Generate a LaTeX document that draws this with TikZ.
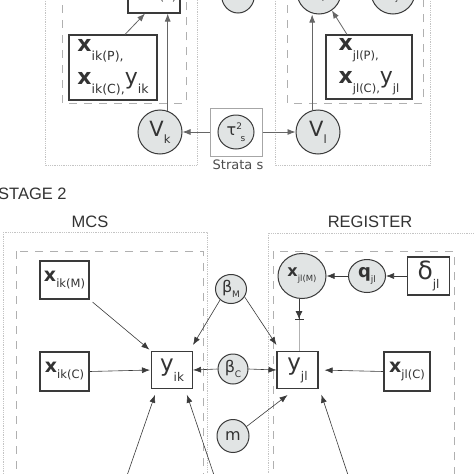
\documentclass[tikz,border=0pt]{standalone}
\usepackage{fontspec}
\setmainfont{DejaVu Sans}
\newfontfamily\arialf{Liberation Sans}
\usetikzlibrary{arrows.meta,shapes.geometric}
\definecolor{circfill}{HTML}{E1E4E4}
\definecolor{edgec}{HTML}{3A3A3A}
\definecolor{dotc}{HTML}{C4C4C4}
\definecolor{dashc}{HTML}{B0B0B0}
\definecolor{txtc}{HTML}{333333}
\newcommand\ssub[5]{{\fontsize{#1}{#1}\selectfont #2}\raisebox{#4}{\fontsize{#3}{#3}\selectfont #5}}
\begin{document}
\begin{tikzpicture}[x=1pt,y=-1pt,
  box/.style={draw=edgec,line width=1.1pt,fill=white,inner sep=0pt,rectangle,text=txtc},
  circ/.style={ellipse,draw=edgec,line width=1pt,fill=circfill,inner sep=0pt,text=txtc},
  arr/.style={draw=edgec,line width=0.6pt,-{Latex[length=8pt,width=6pt]}},
  arrg/.style={draw=black!60,line width=0.8pt,-{Latex[length=8pt,width=6pt]}},
  outer/.style={draw=dotc,densely dotted,line width=0.8pt},
  inner/.style={draw=dashc,dash pattern=on 8pt off 7pt,line width=0.9pt},
  lbl/.style={inner sep=0pt,font=\arialf\fontsize{16.5}{16.5}\selectfont,text=black!80}]
\useasboundingbox (0,0) rectangle (474,474);
\clip (0,0) rectangle (474,474);
\fill[white] (0,0) rectangle (474,474);

% ---------- regions ----------
\draw[outer] (45,-10) rectangle (197,165);
\draw[inner] (62,-10) rectangle (186,103);
\draw[outer] (275,-10) rectangle (430,165);
\draw[inner] (287,-10) rectangle (423,103);
\draw[outer] (3,232) rectangle (207,490);
\draw[inner] (16,251) rectangle (203,490);
\draw[outer] (268,233) rectangle (490,490);
\draw[inner] (273,251) rectangle (454,490);

% ---------- stage 1 ----------
\node[box,minimum width=52pt,minimum height=40pt] (bA) at (154,-7) {};
\node[inner sep=0pt,font=\fontsize{12.5}{12.5}\selectfont,text=black!70] (bAt) at (162,-3) {m(P)};
\node[circ,minimum width=33pt,minimum height=36pt] (cM) at (238,-5) {};
\node[circ,minimum width=44pt,minimum height=44pt] (cR1) at (319,-8) {};
\node[inner sep=0pt,font=\fontsize{10}{10}\selectfont,text=black!70] (cR1t) at (323,-2) {l};
\node[circ,minimum width=44pt,minimum height=44pt] (cR2) at (393,-8) {};
\node[inner sep=0pt,font=\fontsize{10}{10}\selectfont,text=black!70] (cR2t) at (397,-2) {j};

\node[box,minimum width=88pt,minimum height=65pt,align=left,text=black!80,
      font=\fontsize{21}{33}\selectfont] (bL) at (113,67.5)
  {\ssub{22}{\bfseries x}{12.5}{-9pt}{ik(P),}\\
   \ssub{22}{\bfseries x}{12.5}{-9pt}{ik(C),}\ssub{22}{y}{12.5}{-9pt}{ik}};
\node[box,minimum width=86pt,minimum height=64pt,align=left,text=black!80,
      font=\fontsize{21}{33}\selectfont] (bR) at (369,67)
  {\ssub{22}{\bfseries x}{11.5}{-9pt}{jl(P),}\\
   \ssub{22}{\bfseries x}{11.5}{-9pt}{jl(C),}\ssub{22}{y}{11.5}{-9pt}{jl}};

\node[circ,minimum width=44pt,minimum height=44pt,text=black!80] (Vk) at (160,132) {\ssub{21}{V}{11.5}{-7pt}{k}};
\node[circ,minimum width=44pt,minimum height=44pt,text=black!80] (Vl) at (318,132) {\ssub{21}{V}{11.5}{-7pt}{l}};
\node[draw=black!35,line width=1pt,minimum width=52pt,minimum height=48pt,inner sep=0pt] (strata) at (236,132) {};
\node[circ,minimum width=36pt,minimum height=34pt,text=black!80] (tau) at (236,132)
  {{\fontsize{16}{16}\selectfont τ}\raisebox{6pt}{\fontsize{9}{9}\selectfont 2}\kern-1.5pt\raisebox{-6pt}{\fontsize{9}{9}\selectfont s}};
\node[anchor=base,inner sep=0pt,font=\fontsize{13}{13}\selectfont,text=black!70] (stl) at (238,169) {Strata s};

\draw[arrg] (strata.west) -- (Vk.east);
\draw[arrg] (strata.east) -- (Vl.west);
\draw[arrg] (Vk.70) -- (Vk.70 |- bA.south);
\draw[arrg] ([xshift=12pt]bL.north) -- ([xshift=-9pt]bA.south);
\draw[arrg] (Vl.105) -- (Vl.105 |- cR1.south);
\draw[arrg] ([xshift=-22pt]bR.north) -- (cR1.-55);

% ---------- stage 2 ----------
\node[lbl,anchor=base west] (st2) at (-2,199) {STAGE 2};
\node[lbl,anchor=base] (mcs) at (90,227) {MCS};
\node[lbl,anchor=base] (reg) at (370,227) {REGISTER};

\node[box,minimum width=49pt,minimum height=38pt] (xikM) at (64.5,280) {\ssub{19}{\bfseries x}{11.5}{-6pt}{ik(M)}};
\node[box,minimum width=49pt,minimum height=39pt] (xikC) at (64.5,371.5) {\ssub{19}{\bfseries x}{11.5}{-6pt}{ik(C)}};
\node[box,minimum width=41pt,minimum height=37pt] (yik) at (172,370) {\ssub{23}{y}{12}{-10pt}{ik}};
\node[circ,minimum width=31pt,minimum height=29pt] (betaM) at (231,289) {\ssub{16}{β}{9}{-5pt}{M}};
\node[circ,minimum width=30pt,minimum height=30pt] (betaC) at (233,369) {\ssub{16}{β}{9}{-5pt}{C}};
\node[circ,minimum width=32pt,minimum height=33pt] (m) at (233,436) {\fontsize{16}{16}\selectfont m};
\node[box,minimum width=41pt,minimum height=37pt] (yjl) at (297.5,370) {\ssub{23}{y}{12}{-10pt}{jl}};
\node[box,minimum width=46pt,minimum height=39pt] (xjlC) at (407,371.5) {\ssub{19}{\bfseries x}{11.5}{-6pt}{jl(C)}};
\node[circ,minimum width=48pt,minimum height=45pt] (xjlM) at (302,276) {\ssub{16}{\bfseries x}{8.5}{-5pt}{jl(M)}};
\node[circ,minimum width=37pt,minimum height=33pt] (qjl) at (367,276) {\ssub{18}{\bfseries q}{9}{-5pt}{jl}};
\node[box,minimum width=42pt,minimum height=38pt] (djl) at (428.5,276) {\ssub{25}{δ}{12}{-9pt}{jl}};

\coordinate (bar) at (299,320);
\coordinate (b1) at (122,490);
\coordinate (b2) at (219,490);
\coordinate (b3) at (353,490);

\draw[arr,shorten <=4pt,shorten >=2pt] (xikM.south east) -- (yik.north west);
\draw[arr,shorten >=1pt] (xikC.east) -- (yik.west);
\draw[arr] (betaM.225) -- ([yshift=6pt]yik.north east);
\draw[arr] (betaM.330) -- ([yshift=6pt]yjl.north west);
\draw[arr] (betaC.west) -- (yik.east);
\draw[arr] (betaC.east) -- (yjl.west);
\draw[arr] (m.35) -- ([xshift=-10pt,yshift=-6pt]yjl.south);
\draw[arr,shorten >=6pt] (xjlC.west) -- (yjl.east);
\draw[arr] (djl.west) -- (qjl.east);
\draw[arr] (qjl.west) -- (xjlM.east);
\draw[draw=edgec,line width=0.8pt,-{Latex[length=8pt,width=7pt]Bar[width=9pt,line width=1pt]}] (xjlM.south -| bar) -- (bar);
\draw[black!30,line width=1pt] (bar) -- (bar |- yjl.north);
\draw[arr,shorten >=6pt] (b1) -- ([xshift=-15pt]yik.south);
\draw[arr,shorten >=6pt] (b2) -- ([xshift=13pt]yik.south);
\draw[arr,shorten >=6pt] (b3) -- ([xshift=22pt]yjl.south);
\end{tikzpicture}
\end{document}
